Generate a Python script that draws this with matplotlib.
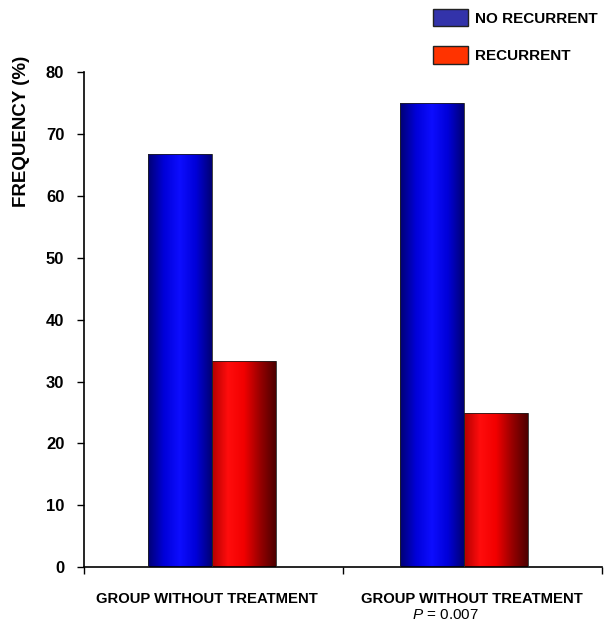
import numpy as np
import matplotlib.pyplot as plt
from matplotlib.colors import LinearSegmentedColormap
from matplotlib.patches import Patch

plt.rcParams['font.family'] = ['Liberation Sans', 'DejaVu Sans']
plt.rcParams['mathtext.fontset'] = 'custom'
plt.rcParams['mathtext.it'] = 'Liberation Sans:italic'
plt.rcParams['mathtext.rm'] = 'Liberation Sans'

categories = ['GROUP WITHOUT TREATMENT', 'GROUP WITHOUT TREATMENT']
subtitles = ['', r'$\mathit{P}$ = 0.007']
no_recurrent = [66.7, 75.0]
recurrent = [33.3, 25.0]
yticks = [0, 10, 20, 30, 40, 50, 60, 70, 80]

blue_cmap = LinearSegmentedColormap.from_list(
    'blue_cyl', [(0, 0, 0.45), (0, 0, 0.85), (0.05, 0.05, 1.0), (0, 0, 0.85), (0, 0, 0.45)])
red_cmap = LinearSegmentedColormap.from_list(
    'red_cyl', [(0.7, 0, 0), (1.0, 0.05, 0.05), (0.95, 0, 0), (0.6, 0, 0), (0.3, 0, 0)])

fig = plt.figure(figsize=(6.16, 6.22), dpi=100)
ax = fig.add_axes([0.136, 0.088, 0.841, 0.796])

x = np.arange(len(categories))
w = 0.253
grad = np.linspace(0, 1, 256).reshape(1, -1)


def gradient_bars(xs, vals, cmap):
    bars = ax.bar(xs, vals, w, color='none', edgecolor='#222222', linewidth=0.6, zorder=3)
    for b in bars:
        x0, y0 = b.get_x(), b.get_y()
        im = ax.imshow(grad, cmap=cmap, aspect='auto', zorder=2,
                       extent=[x0, x0 + b.get_width(), y0, y0 + b.get_height()])
        im.set_clip_path(b)
    return bars


gradient_bars(x - w / 2, no_recurrent, blue_cmap)
gradient_bars(x + w / 2, recurrent, red_cmap)

ax.set_xlim(-0.506, 1.544)
ax.set_ylim(0, 80)
ax.set_yticks(yticks)
ax.set_yticklabels([str(t) for t in yticks], fontsize=12, fontweight='bold')
ax.set_xticks([-0.506, 0.519, 1.544])
ax.set_xticklabels([])
ax.tick_params(axis='x', direction='out', length=5, width=1)
ax.tick_params(axis='y', direction='out', length=5, width=1, pad=9)
ax.spines['top'].set_visible(False)
ax.spines['right'].set_visible(False)
ax.spines['left'].set_linewidth(1.2)
ax.spines['bottom'].set_linewidth(1.2)

ax.set_ylabel('FREQUENCY (%)', fontsize=13.5, fontweight='bold')
ax.yaxis.set_label_coords(-0.104, 0.88)

for i, c in enumerate(categories):
    ax.text(i - 0.02 + 0.05 * i, -5.1, c, ha='center', va='center', fontsize=10.7, fontweight='bold')
    if subtitles[i]:
        ax.text(i - 0.208, -7.75, subtitles[i], ha='left', va='center', fontsize=11)

handles = [Patch(facecolor='#3333aa', edgecolor='#222222', label='NO RECURRENT'),
           Patch(facecolor='#ff3300', edgecolor='#222222', label='RECURRENT')]
fig.legend(handles=handles, loc='upper left', bbox_to_anchor=(0.68, 1.008), frameon=False,
           prop={'size': 11, 'weight': 'bold'}, handlelength=2.3, handleheight=1.4,
           labelspacing=1.3, handletextpad=0.5)

fig.savefig('out.png', dpi=100)
